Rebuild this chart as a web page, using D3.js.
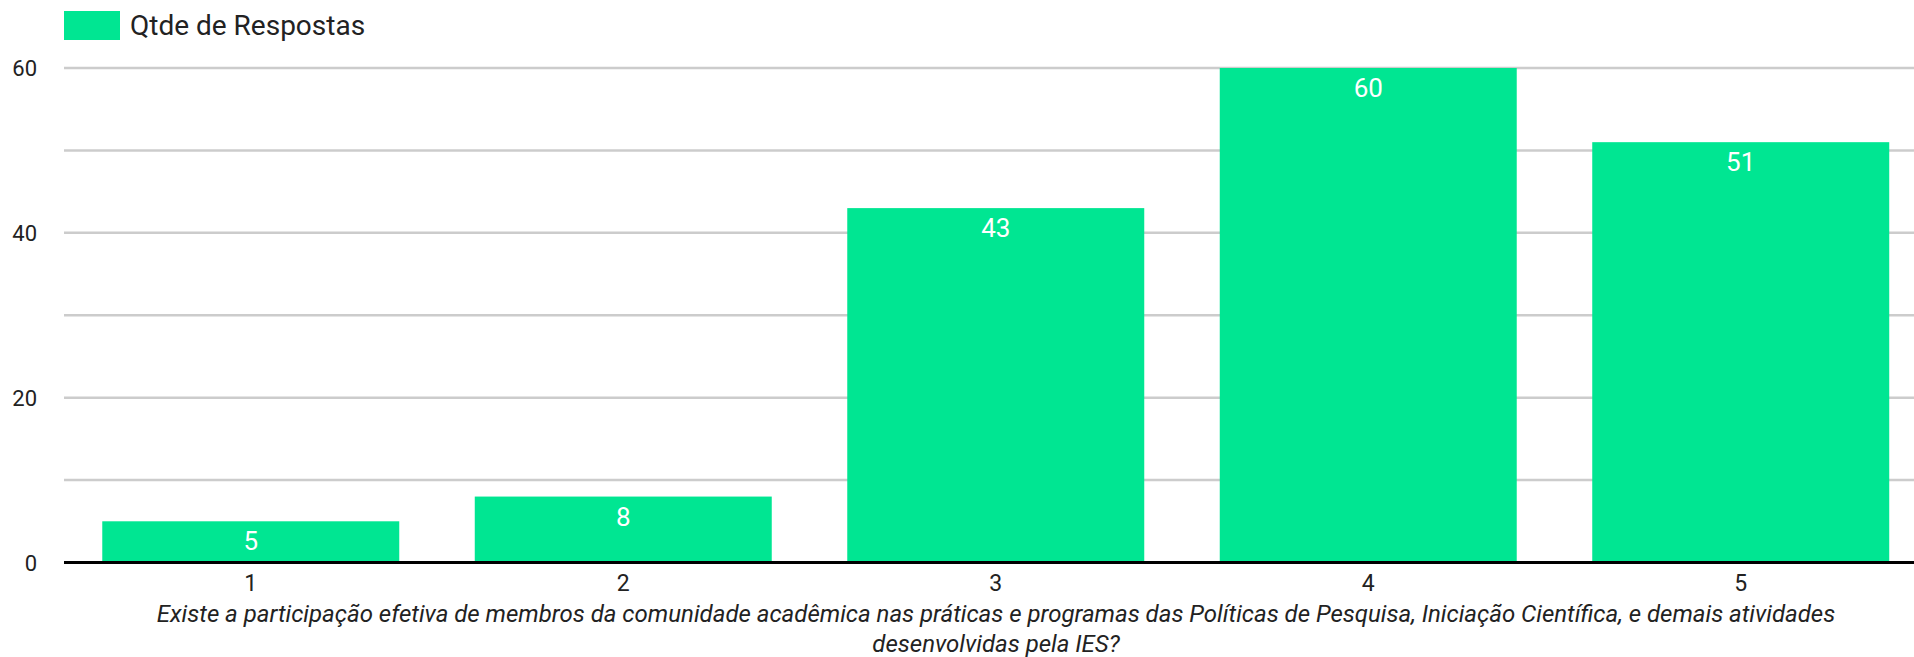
<!DOCTYPE html>
<html>
<head>
<meta charset="utf-8">
<script src="https://cdn.jsdelivr.net/npm/d3@7"></script>
<style>
html,body{margin:0;padding:0;background:#fff;}
svg{display:block;font-family:Roboto,"Noto Sans",sans-serif;}
</style>
</head>
<body>
<svg id="chart" width="1914" height="657"></svg>
<script>
const categories = ["1","2","3","4","5"];
const values = [5, 8, 43, 60, 51];
const seriesName = "Qtde de Respostas";
const yTicks = [0, 20, 40, 60];
const yMinorTicks = [10, 30, 50];
const axisTitleLines = [
  "Existe a participação efetiva de membros da comunidade acadêmica nas práticas e programas das Políticas de Pesquisa, Iniciação Científica, e demais atividades",
  "desenvolvidas pela IES?"
];

const W = 1914, H = 657;
const color = "#00e692";
const svg = d3.select("#chart");

const x = d3.scaleBand().domain(categories).range([64.5, 1927]).paddingInner(0.2027).paddingOuter(0.1014);
const y = d3.scaleLinear().domain([0, 60]).range([562.5, 68]);

// grid
const gGrid = svg.append("g");
gGrid.selectAll("line.grid").data(yTicks.slice(1).concat(yMinorTicks)).join("line")
  .attr("x1", 64).attr("x2", W)
  .attr("y1", d => y(d)).attr("y2", d => y(d))
  .attr("stroke", "#cccccc").attr("stroke-width", 2.5);

// bars
svg.append("g").selectAll("rect").data(values).join("rect")
  .attr("x", (d, i) => x(categories[i]))
  .attr("width", x.bandwidth())
  .attr("y", d => y(d))
  .attr("height", d => y(0) - y(d))
  .attr("fill", color);

// value labels
svg.append("g").selectAll("text").data(values).join("text")
  .attr("x", (d, i) => x(categories[i]) + x.bandwidth() / 2)
  .attr("y", d => y(d) + 29)
  .attr("text-anchor", "middle")
  .attr("fill", "#ffffff")
  .attr("font-size", 26)
  .text(d => d);

// baseline
svg.append("line").attr("x1", 64).attr("x2", W).attr("y1", y(0)).attr("y2", y(0))
  .attr("stroke", "#000").attr("stroke-width", 3);

// y axis
const yAxis = d3.axisLeft(y).tickValues(yTicks).tickSize(0).tickPadding(0);
const gy = svg.append("g").attr("transform", "translate(37,0)").call(yAxis);
gy.select(".domain").remove();
gy.selectAll("text").attr("font-size", 22).attr("fill", "#222").attr("font-family", "Roboto").attr("dy", "0.35em");

// x axis
const xAxis = d3.axisBottom(x).tickSize(0).tickPadding(0);
const gx = svg.append("g").attr("transform", "translate(0,575)").call(xAxis);
gx.select(".domain").remove();
gx.selectAll("text").attr("font-size", 23).attr("fill", "#222").attr("font-family", "Roboto").attr("dy", "0.71em");

// axis title
svg.append("g").selectAll("text").data(axisTitleLines).join("text")
  .attr("x", 996)
  .attr("y", (d, i) => 622 + i * 30)
  .attr("text-anchor", "middle")
  .attr("font-style", "italic")
  .attr("font-size", 24)
  .attr("fill", "#222")
  .text(d => d);

// legend
svg.append("rect").attr("x", 64).attr("y", 11).attr("width", 56).attr("height", 29).attr("fill", color);
svg.append("text").attr("x", 130).attr("y", 35).attr("font-size", 28).attr("fill", "#222").text(seriesName);
</script>
</body>
</html>
